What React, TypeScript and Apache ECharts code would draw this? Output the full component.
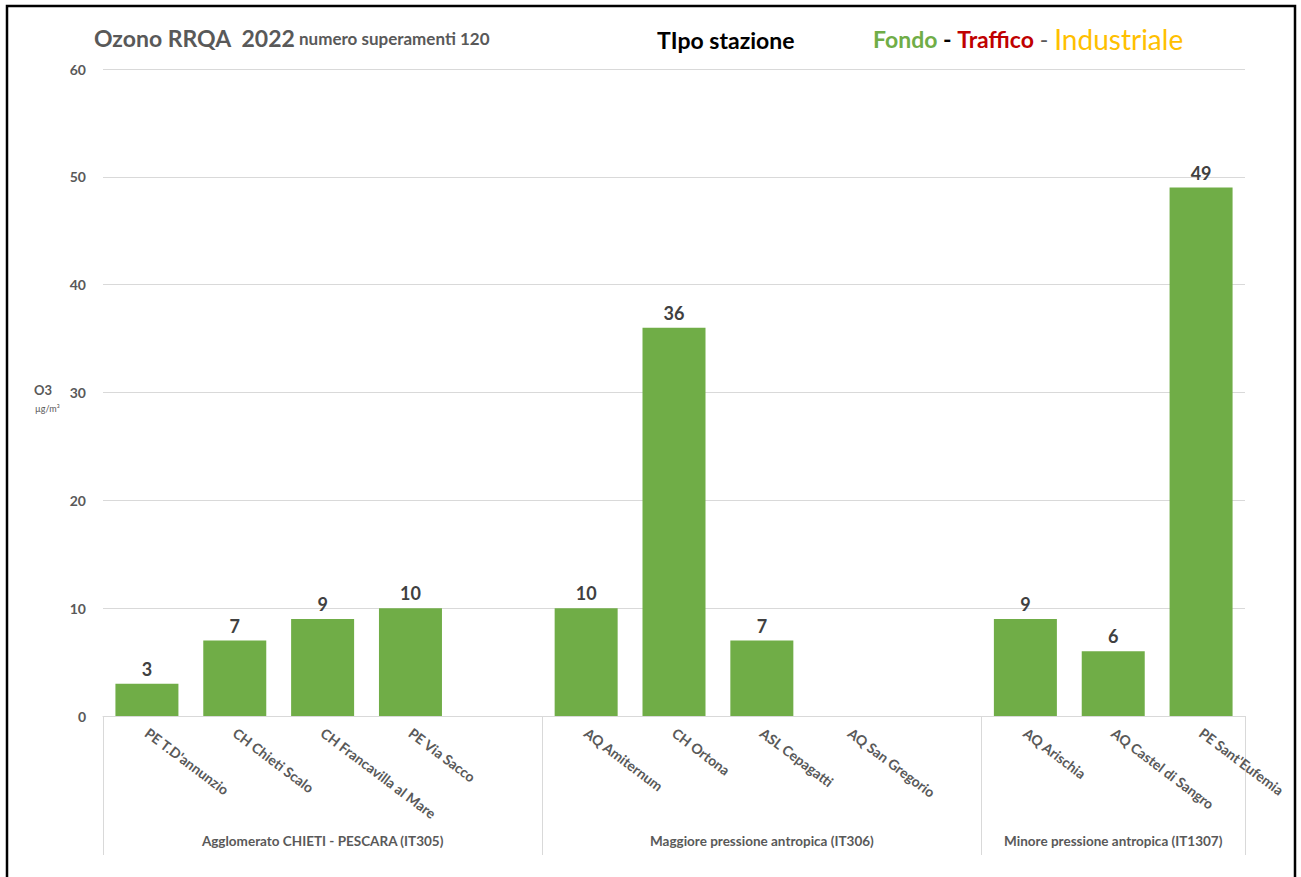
import React, { useEffect, useRef } from "react";
import * as echarts from "echarts";

const stations = [
  "PE T.D'annunzio", "CH Chieti Scalo", "CH Francavilla al Mare", "PE Via Sacco", "",
  "AQ Amiternum", "CH Ortona", "ASL Cepagatti", "AQ San Gregorio", "",
  "AQ Arischia", "AQ Castel di Sangro", "PE Sant'Eufemia",
];
const exceedances: (number | null)[] = [3, 7, 9, 10, null, 10, 36, 7, null, null, 9, 6, 49];
const groupLabels = [
  "", "", "Agglomerato CHIETI - PESCARA (IT305)", "", "",
  "", "", "Maggiore pressione antropica (IT306)", "", "",
  "", "Minore pressione antropica (IT1307)", "",
];
const groupStartIdx = [0, 5, 10];
const yTicks = [0, 10, 20, 30, 40, 50, 60];

const FONT = "Lato, 'Open Sans', sans-serif";

export default function App() {
  const ref = useRef<HTMLDivElement>(null);
  useEffect(() => {
    if (!ref.current) return;
    const chart = echarts.init(ref.current, undefined, { renderer: "svg" });
    chart.setOption({
      animation: false,
      backgroundColor: "#ffffff",
      grid: { left: 103, right: 56, top: 69, bottom: 161 },
      xAxis: [
        {
          type: "category",
          data: stations,
          axisLine: { lineStyle: { color: "#d9d9d9", width: 1 } },
          axisTick: {
            show: true,
            length: 139,
            inside: false,
            interval: (i: number) => groupStartIdx.includes(i),
            lineStyle: { color: "#d9d9d9", width: 1 },
          },
          axisLabel: {
            interval: 0,
            rotate: -37,
            margin: 15,
            color: "#595959",
            fontFamily: FONT,
            fontWeight: "bold",
            fontSize: 14,
          },
        },
        {
          type: "category",
          data: groupLabels,
          position: "bottom",
          axisLine: { show: false },
          axisTick: { show: false },
          axisLabel: {
            interval: 0,
            margin: 118,
            color: "#595959",
            fontFamily: FONT,
            fontWeight: "bold",
            fontSize: 13.5,
          },
        },
      ],
      yAxis: {
        type: "value",
        min: yTicks[0],
        max: yTicks[yTicks.length - 1],
        interval: 10,
        axisLine: { show: false },
        axisTick: { show: false },
        splitLine: { lineStyle: { color: "#d9d9d9", width: 1 } },
        axisLabel: {
          margin: 17,
          color: "#595959",
          fontFamily: FONT,
          fontWeight: "bold",
          fontSize: 14,
        },
      },
      series: [
        {
          type: "bar",
          data: exceedances,
          xAxisIndex: 0,
          barWidth: 63,
          itemStyle: { color: "#70AD47" },
          label: {
            show: true,
            position: "top",
            distance: 6,
            color: "#404040",
            fontFamily: FONT,
            fontWeight: "bold",
            fontSize: 18,
          },
        },
      ],
      graphic: [
        {
          type: "rect",
          shape: { x: 7, y: 6, width: 1288, height: 900 },
          style: { fill: "none", stroke: "#000000", lineWidth: 2.5 },
          silent: true,
        },
        {
          type: "text",
          x: 94,
          y: 38,
          style: {
            text: "{a|Ozono RRQA  2022} {b|numero superamenti 120}",
            verticalAlign: "middle",
            rich: {
              a: { fontFamily: FONT, fontWeight: "bold", fontSize: 23, fill: "#595959" },
              b: { fontFamily: FONT, fontWeight: "bold", fontSize: 17, fill: "#595959" },
            },
          },
        },
        {
          type: "text",
          x: 657,
          y: 40,
          style: {
            text: "TIpo stazione",
            fontFamily: FONT,
            fontWeight: "bold",
            fontSize: 23,
            fill: "#000000",
            verticalAlign: "middle",
          },
        },
        {
          type: "text",
          x: 873,
          y: 39,
          style: {
            text: "{g|Fondo}{k| - }{r|Traffico}{d| - }{y|Industriale}",
            verticalAlign: "middle",
            rich: {
              g: { fontFamily: FONT, fontWeight: "bold", fontSize: 23, fill: "#70AD47" },
              k: { fontFamily: FONT, fontWeight: "bold", fontSize: 23, fill: "#000000" },
              r: { fontFamily: FONT, fontWeight: "bold", fontSize: 23, fill: "#C00000" },
              d: { fontFamily: FONT, fontSize: 23, fill: "#595959" },
              y: { fontFamily: FONT, fontSize: 28, fill: "#FFC000" },
            },
          },
        },
        {
          type: "text",
          x: 34,
          y: 390,
          style: {
            text: "O3",
            fontFamily: FONT,
            fontWeight: "bold",
            fontSize: 13,
            fill: "#595959",
            verticalAlign: "middle",
          },
        },
        {
          type: "text",
          x: 35,
          y: 408,
          style: {
            text: "µg/m³",
            fontFamily: FONT,
            fontSize: 9,
            fill: "#595959",
            verticalAlign: "middle",
          },
        },
      ],
    });
    return () => chart.dispose();
  }, []);
  return (
    <div
      ref={ref}
      style={{ position: "fixed", left: 0, top: 0, width: 1301, height: 877 }}
    />
  );
}
